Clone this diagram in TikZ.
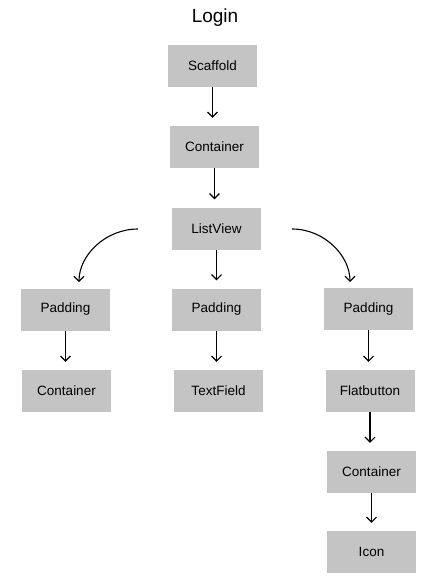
\documentclass[tikz,border=0pt]{standalone}
\usepackage{fontspec}
\setmainfont{Liberation Sans}
\usetikzlibrary{calc,arrows.meta}
\tikzset{
	box/.style={fill=boxgray, minimum width=89pt, minimum height=42pt, inner sep=0pt, font=\fontsize{13.5}{15}\selectfont},
	arr/.style={-{Straight Barb[length=5pt, width=10pt]}, line width=1.1pt, shorten >=8pt}
}
\definecolor{boxgray}{RGB}{196,196,196}

\begin{document}
\begin{tikzpicture}[x=1pt, y=-1pt]
		%%%%% START %%%%%
		\useasboundingbox (0, 0) rectangle (436, 585);
		
		\node (title) at (215, 18) {\fontsize{19}{21}\selectfont Login};
		
		\node[box] (sc) at (212.5, 66) {Scaffold};
		\node[box] (ct) at (214.5, 147) {Container};
		\node[box] (lv) at (216.5, 228.5) {ListView};
		
		\node[box] (pl) at (65.5, 309.5) {Padding};
		\node[box] (pm) at (216.5, 309.5) {Padding};
		\node[box] (pr) at (368.5, 309) {Padding};
		
		\node[box] (cl) at (66.5, 391) {Container};
		\node[box] (tf) at (218.5, 391) {TextField};
		\node[box] (fb) at (370, 391) {Flatbutton};
		
		\node[box] (cr) at (371.5, 472) {Container};
		\node[box] (ic) at (371.5, 552) {Icon};
		
		\coordinate (lvl) at (138, 229);
		\coordinate (lvr) at (292, 229);
		\coordinate (pltop) at (79, 288);
		\coordinate (prtop) at (350, 288);
		
		\draw[arr] (sc.south) -- (sc.south |- ct.north);
		\draw[arr] (ct.south) -- (ct.south |- lv.north);
		\draw[arr] (lv.south) -- (lv.south |- pm.north);
		\draw[arr, shorten >=6pt] (lvl) to[out=180, in=90] (pltop);
		\draw[arr, shorten >=6pt] (lvr) to[out=0, in=90] (prtop);
		
		\draw[arr] (pl.south) -- (pl.south |- cl.north);
		\draw[arr] (pm.south) -- (pm.south |- tf.north);
		\draw[arr] (pr.south) -- (pr.south |- fb.north);
		\draw[arr] (fb.south) -- (fb.south |- cr.north);
		\draw[arr] (cr.south) -- (cr.south |- ic.north);
		
		%%%%% END %%%%%
	\end{tikzpicture}
\end{document}
